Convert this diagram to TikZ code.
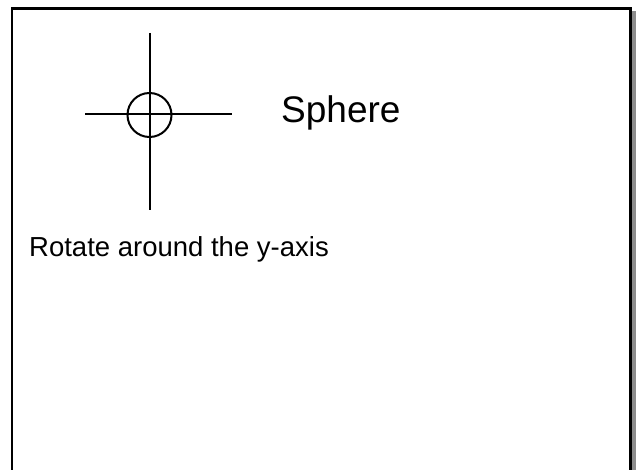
\documentclass[tikz,border=0pt]{standalone}
\usepackage{fontspec}
\setmainfont{Liberation Sans}
\begin{document}
\begin{tikzpicture}[x=1pt,y=-1pt,
  axisline/.style={line width=2pt,black},
  frameline/.style={line width=2.2pt,black},
  shadowfill/.style={fill=black!45,draw=none}]
\useasboundingbox (0,0) rectangle (639,470);
% shadow
\fill[shadowfill] (631.5,11) rectangle (636,472);
% frame
\draw[frameline] (12,472) -- (12,8.5) -- (630.5,8.5) -- (630.5,472);
% crosshair with circle
\coordinate (c) at (149.5,115);
\draw[axisline] (149.5,33) -- (149.5,210);
\draw[axisline] (85,114.5) -- (232,114.5);
\draw[axisline] (c) circle[radius=22];
% texts
\node[anchor=base west,inner sep=0pt,font=\fontsize{37}{40}\selectfont] (sphere) at (281,123) {Sphere};
\node[anchor=base west,inner sep=0pt,font=\fontsize{27.5}{30}\selectfont] (rot) at (29,256) {Rotate around the y-axis};
\end{tikzpicture}
\end{document}
